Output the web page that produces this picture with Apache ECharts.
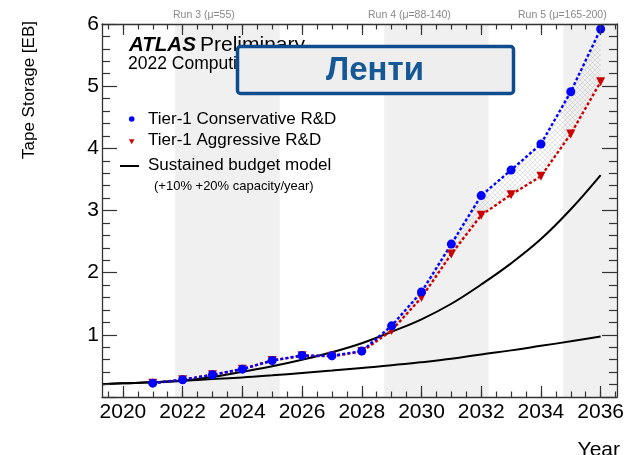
<!DOCTYPE html>
<html>
<head>
<meta charset="utf-8">
<script src="https://cdn.jsdelivr.net/npm/echarts@6/dist/echarts.min.js"></script>
<style>
  html, body { margin: 0; padding: 0; background: #ffffff; }
  #chart { width: 627px; height: 455px; }
</style>
</head>
<body>
<div id="chart"></div>
<script>
// Tier-1 tape storage projections (EB) per year
const years = [2021, 2022, 2023, 2024, 2025, 2026, 2027, 2028, 2029, 2030, 2031, 2032, 2033, 2034, 2035, 2036];
const conservative = [0.223, 0.277, 0.357, 0.448, 0.587, 0.667, 0.662, 0.738, 1.145, 1.69, 2.46, 3.24, 3.65, 4.07, 4.91, 5.92];
const aggressive   = [0.223, 0.277, 0.357, 0.448, 0.587, 0.665, 0.655, 0.730, 1.07, 1.60, 2.30, 2.925, 3.255, 3.55, 4.23, 5.07];

// Sustained budget model curves (+20% and +10% capacity per year)
const budgetYears = [2019.3, 2020, 2021, 2022, 2023, 2024, 2025, 2026, 2027, 2028, 2029, 2030, 2031, 2032, 2033, 2034, 2035, 2036];
const budget20 = [0.207, 0.220, 0.236, 0.262, 0.320, 0.405, 0.495, 0.600, 0.720, 0.865, 1.050, 1.250, 1.500, 1.810, 2.150, 2.540, 3.020, 3.570];
const budget10 = [0.207, 0.220, 0.236, 0.262, 0.288, 0.314, 0.348, 0.385, 0.425, 0.468, 0.510, 0.560, 0.615, 0.685, 0.750, 0.823, 0.895, 0.973];

// LHC run periods shaded in the background
const runStarts = [2021.75, 2028.75, 2034.75];
const runEnds   = [2025.25, 2032.25, 'max'];
const runLabels = ['Run 3 (\u03bc=55)', 'Run 4 (\u03bc=88-140)', 'Run 5 (\u03bc=165-200)'];

// Axis ticks and labels
const xTickLabels = [2020, 2022, 2024, 2026, 2028, 2030, 2032, 2034, 2036];
const yTickLabels = [1, 2, 3, 4, 5, 6];
const X_MIN = 2019.3, X_MAX = 2036.55;

const xMinorTicks = [];
for (let t = 2019.5; t <= 2036.5; t += 0.5) xMinorTicks.push(t);

const FONT = '"Liberation Sans", Arial, Helvetica, sans-serif';
const pairs = (xs, ys) => xs.map((x, i) => [x, ys[i]]);

// Cross-hatch tile for the band between the two R&D scenarios
function hatchTile() {
  const s = 5;
  const c = document.createElement('canvas');
  c.width = s; c.height = s;
  const g = c.getContext('2d');
  g.strokeStyle = 'rgba(170,170,170,0.45)';
  g.lineWidth = 0.7;
  g.beginPath();
  g.moveTo(-1, -1); g.lineTo(s + 1, s + 1);
  g.moveTo(s + 1, -1); g.lineTo(-1, s + 1);
  g.stroke();
  return c;
}
const HATCH = hatchTile();

const chart = echarts.init(document.getElementById('chart'), null, { renderer: 'canvas' });

const frame = { show: true, lineStyle: { color: '#333', width: 1.3 } };

function xAxisDef(pos, major, showLabels) {
  return {
    type: 'value', position: pos, min: X_MIN, max: X_MAX, z: 5,
    axisLine: major ? frame : { show: false },
    axisTick: {
      show: true, inside: true, length: major ? 11 : 5.5,
      customValues: major ? xTickLabels : xMinorTicks,
      lineStyle: { color: '#333', width: 1.2 }
    },
    axisLabel: showLabels ? {
      show: true, customValues: xTickLabels, fontSize: 21, color: '#000',
      fontFamily: FONT, margin: 5, formatter: v => String(Math.round(v))
    } : { show: false },
    splitLine: { show: false }
  };
}

function yAxisDef(pos, showLabels) {
  return {
    type: 'value', position: pos, min: 0, max: 6, interval: 1, z: 5,
    axisLine: frame,
    axisTick: { show: true, inside: true, length: 15, lineStyle: { color: '#333', width: 1.2 } },
    minorTick: { show: true, splitNumber: 5, length: 8, lineStyle: { color: '#333', width: 1.2 } },
    axisLabel: showLabels ? {
      show: true, customValues: yTickLabels, fontSize: 21, color: '#000', fontFamily: FONT, margin: 3
    } : { show: false },
    splitLine: { show: false }
  };
}

const bandData = runStarts.map((s, i) => [{ xAxis: s }, { xAxis: runEnds[i] }]);

const option = {
  animation: false,
  grid: { left: 102, right: 7, top: 24, bottom: 58, containLabel: false },
  xAxis: [
    xAxisDef('bottom', true, true),
    xAxisDef('bottom', false, false),
    xAxisDef('top', true, false),
    xAxisDef('top', false, false)
  ],
  yAxis: [
    yAxisDef('left', true),
    yAxisDef('right', false)
  ],
  series: [
    {
      name: 'runs', type: 'line', data: [], z: 0, silent: true,
      markArea: { silent: true, itemStyle: { color: '#f0f0f0' }, data: bandData }
    },
    {
      name: 'budget +10%', type: 'line', data: pairs(budgetYears, budget10), smooth: 0.4,
      symbol: 'none', z: 2, lineStyle: { color: '#000', width: 2 }
    },
    {
      name: 'budget +20%', type: 'line', data: pairs(budgetYears, budget20), smooth: 0.4,
      symbol: 'none', z: 2, lineStyle: { color: '#000', width: 2 }
    },
    {
      // hatched band between the aggressive and conservative scenarios
      name: 'gap', type: 'custom', z: 3, silent: true,
      data: [[years[0], aggressive[0]]],
      renderItem: function (params, api) {
        const upper = years.map((y, i) => api.coord([y, conservative[i]]));
        const lower = years.map((y, i) => api.coord([y, aggressive[i]])).reverse();
        return {
          type: 'polygon',
          shape: { points: upper.concat(lower) },
          style: { fill: { image: HATCH, repeat: 'repeat' }, stroke: null }
        };
      }
    },
    {
      name: 'Tier-1 Aggressive R&D', type: 'line', data: pairs(years, aggressive),
      symbol: 'triangle', symbolRotate: 180, symbolSize: 9, z: 4,
      itemStyle: { color: '#cc0000' },
      lineStyle: { color: '#cc0000', width: 2.4, type: [3, 2.2] }
    },
    {
      name: 'Tier-1 Conservative R&D', type: 'line', data: pairs(years, conservative),
      symbol: 'circle', symbolSize: 9, z: 4,
      itemStyle: { color: '#0000ff' },
      lineStyle: { color: '#0000ff', width: 2.4, type: [3, 2.2] }
    }
  ],
  graphic: [
    // run labels above the frame
    { type: 'text', x: 173, y: 15, style: { text: runLabels[0], font: '10.5px ' + FONT, fill: '#888', verticalAlign: 'middle' } },
    { type: 'text', x: 368, y: 15, style: { text: runLabels[1], font: '10.5px ' + FONT, fill: '#888', verticalAlign: 'middle' } },
    { type: 'text', x: 518, y: 15, style: { text: runLabels[2], font: '10.5px ' + FONT, fill: '#888', verticalAlign: 'middle' } },
    // axis titles
    { type: 'text', x: 29, y: 90, rotation: Math.PI / 2,
      style: { text: 'Tape Storage [EB]', font: '17px ' + FONT, fill: '#000', align: 'center', verticalAlign: 'middle' } },
    { type: 'text', x: 620, y: 450,
      style: { text: 'Year', font: '21px ' + FONT, fill: '#000', align: 'right', verticalAlign: 'middle' } },
    // experiment label
    { type: 'text', x: 129, y: 45.5, z: 10,
      style: { text: 'ATLAS', font: 'italic bold 20.5px ' + FONT, fill: '#000', verticalAlign: 'middle' } },
    { type: 'text', x: 200, y: 45.5, z: 10,
      style: { text: 'Preliminary', font: '21px ' + FONT, fill: '#000', verticalAlign: 'middle' } },
    { type: 'text', x: 128, y: 64.5, z: 10,
      style: { text: '2022 Computing Model - Tape', font: '17.5px ' + FONT, fill: '#000', verticalAlign: 'middle' } },
    // legend
    { type: 'circle', z: 10, shape: { cx: 131.7, cy: 119, r: 2.8 }, style: { fill: '#0000ff' } },
    { type: 'text', x: 148, y: 119, z: 10,
      style: { text: 'Tier-1 Conservative R&D', font: '17px ' + FONT, fill: '#000', verticalAlign: 'middle' } },
    { type: 'polygon', z: 10, shape: { points: [[128.9, 139.2], [134.5, 139.2], [131.7, 144.2]] }, style: { fill: '#cc0000' } },
    { type: 'text', x: 148, y: 140, z: 10,
      style: { text: 'Tier-1 Aggressive R&D', font: '17px ' + FONT, fill: '#000', verticalAlign: 'middle' } },
    { type: 'line', z: 10, shape: { x1: 120, y1: 166, x2: 139, y2: 166 }, style: { stroke: '#000', lineWidth: 2 } },
    { type: 'text', x: 148, y: 165, z: 10,
      style: { text: 'Sustained budget model', font: '17px ' + FONT, fill: '#000', verticalAlign: 'middle' } },
    { type: 'text', x: 154, y: 186, z: 10,
      style: { text: '(+10% +20% capacity/year)', font: '13px ' + FONT, fill: '#000', verticalAlign: 'middle' } },
    // title box
    { type: 'rect', z: 20, shape: { x: 237.5, y: 46.5, width: 276, height: 47, r: 3 },
      style: { fill: '#eeeeee', stroke: '#0f4c8f', lineWidth: 3.5 } },
    { type: 'text', x: 375, y: 71, z: 21,
      style: { text: 'Ленти', font: 'bold 33px ' + FONT, fill: '#165896', align: 'center', verticalAlign: 'middle' } }
  ]
};

chart.setOption(option);
</script>
</body>
</html>
